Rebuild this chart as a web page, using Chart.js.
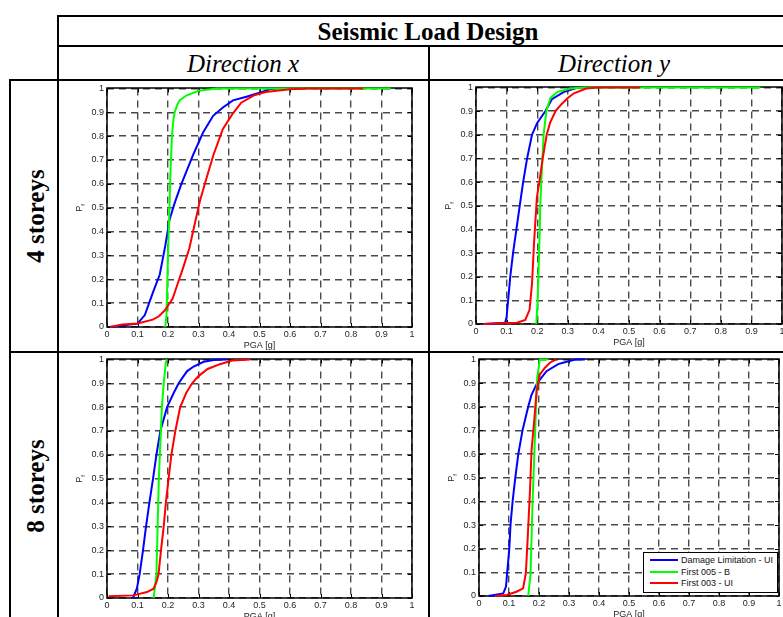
<!DOCTYPE html>
<html>
<head>
<meta charset="utf-8">
<script src="https://cdn.jsdelivr.net/npm/chart.js@4/dist/chart.umd.min.js"></script>
<style>
  body { margin: 0; background: #fff; }
  #fig { position: relative; width: 783px; height: 617px; overflow: hidden; background: #fff; }
  .ln { position: absolute; background: #000; }
  .cap { position: absolute; font-family: "Liberation Serif", "Times New Roman", serif; font-size: 25px;
         line-height: 1; white-space: nowrap; transform: translate(-50%, -50%); color: #000; }
  .rot { transform: translate(-50%, -50%) rotate(-90deg); font-weight: bold; }
  canvas { position: absolute; }
  #legend { position: absolute; left: 643px; top: 552px; width: 133px; height: 39px; border: 1px solid #000;
            background: #fff; font-family: Arial, "Liberation Sans", sans-serif; font-size: 9px; color: #111; }
  #legend .row { position: absolute; left: 0; height: 11px; line-height: 11px; white-space: nowrap; }
  #legend .smp { position: absolute; left: 6px; top: 4px; width: 28px; height: 2px; }
  #legend .txt { position: absolute; left: 37px; top: 0; }
</style>
</head>
<body>
<div id="fig">
  <div class="ln" style="left:57px;top:15px;width:760px;height:2px"></div>
  <div class="ln" style="left:57px;top:45px;width:760px;height:2px"></div>
  <div class="ln" style="left:9px;top:79px;width:800px;height:2px"></div>
  <div class="ln" style="left:9px;top:351px;width:800px;height:2px"></div>
  <div class="ln" style="left:57px;top:15px;width:2px;height:620px"></div>
  <div class="ln" style="left:9px;top:79px;width:2px;height:560px"></div>
  <div class="ln" style="left:428px;top:45px;width:2px;height:600px"></div>

  <div class="cap" style="left:428px;top:31px;font-weight:bold">Seismic Load Design</div>
  <div class="cap" style="left:243px;top:63px;font-style:italic">Direction x</div>
  <div class="cap" style="left:614px;top:63px;font-style:italic">Direction y</div>
  <div class="cap rot" style="left:35px;top:216px">4 storeys</div>
  <div class="cap rot" style="left:35px;top:486px">8 storeys</div>

  <canvas id="c4x"></canvas>
  <canvas id="c4y"></canvas>
  <canvas id="c8x"></canvas>
  <canvas id="c8y"></canvas>
  <div id="legend"></div>
</div>
<script>
// series names / colours
const seriesNames = ["Damage Limitation - UI", "First 005 - B", "First 003 - UI"];
const seriesColors = ["#0000ff", "#00ff00", "#ff0000"];

// 4 storeys - direction x
const pgaBlue4x = [0.01, 0.05, 0.1, 0.124, 0.151, 0.173, 0.191, 0.205, 0.222, 0.244, 0.282, 0.315, 0.348, 0.38, 0.413, 0.457, 0.495, 0.533, 0.555];
const pfBlue4x  = [0, 0.006, 0.014, 0.05, 0.146, 0.22, 0.34, 0.45, 0.52, 0.6, 0.72, 0.815, 0.885, 0.92, 0.95, 0.965, 0.98, 0.996, 1];
const pgaGreen4x = [0.191, 0.195, 0.198, 0.201, 0.205, 0.208, 0.213, 0.218, 0.222, 0.23, 0.238, 0.26, 0.3, 0.36, 0.93];
const pfGreen4x  = [0, 0.05, 0.2, 0.35, 0.5, 0.65, 0.8, 0.87, 0.9, 0.93, 0.95, 0.97, 0.99, 1, 1];
const pgaRed4x = [0.01, 0.05, 0.1, 0.15, 0.17, 0.19, 0.2, 0.215, 0.23, 0.25, 0.27, 0.29, 0.305, 0.33, 0.35, 0.38, 0.41, 0.44, 0.48, 0.52, 0.6, 0.66, 0.84];
const pfRed4x  = [0, 0.01, 0.015, 0.031, 0.045, 0.07, 0.09, 0.118, 0.175, 0.25, 0.33, 0.445, 0.53, 0.64, 0.725, 0.83, 0.89, 0.94, 0.97, 0.985, 0.996, 1, 1];

// 4 storeys - direction y
const pgaBlue4y = [0.025, 0.095, 0.1, 0.105, 0.112, 0.121, 0.132, 0.143, 0.154, 0.167, 0.183, 0.2, 0.227, 0.248, 0.286, 0.33, 0.36];
const pfBlue4y  = [0, 0.005, 0.03, 0.1, 0.2, 0.3, 0.4, 0.5, 0.6, 0.7, 0.8, 0.85, 0.9, 0.95, 0.98, 0.998, 1];
const pgaGreen4y = [0.197, 0.2015, 0.208, 0.21, 0.2135, 0.221, 0.23, 0.243, 0.265, 0.308, 0.352, 0.929];
const pfGreen4y  = [0, 0.1, 0.38, 0.5, 0.605, 0.8, 0.9, 0.955, 0.98, 0.995, 1, 1];
const pgaRed4y = [0.025, 0.134, 0.161, 0.175, 0.183, 0.19, 0.199, 0.207, 0.218, 0.231, 0.242, 0.26, 0.28, 0.3, 0.32, 0.36, 0.4, 0.537];
const pfRed4y  = [0, 0.005, 0.017, 0.06, 0.17, 0.35, 0.535, 0.6, 0.7, 0.8, 0.85, 0.9, 0.93, 0.955, 0.975, 0.995, 1, 1];

// 8 storeys - direction x
const pgaBlue8x = [0.085, 0.098, 0.107, 0.118, 0.128, 0.139, 0.151, 0.162, 0.175, 0.197, 0.219, 0.235, 0.262, 0.284, 0.317, 0.35, 0.393];
const pfBlue8x  = [0, 0.04, 0.1, 0.2, 0.3, 0.4, 0.5, 0.6, 0.7, 0.8, 0.86, 0.9, 0.95, 0.97, 0.99, 0.997, 1];
const pgaGreen8x = [0.153, 0.162, 0.166, 0.17, 0.175, 0.18, 0.186, 0.193, 0.197];
const pfGreen8x  = [0, 0.1, 0.3, 0.5, 0.65, 0.8, 0.9, 0.99, 1];
const pgaRed8x = [0.005, 0.087, 0.131, 0.153, 0.164, 0.169, 0.177, 0.186, 0.193, 0.202, 0.211, 0.224, 0.24, 0.26, 0.279, 0.3, 0.33, 0.37, 0.41, 0.47];
const pfRed8x  = [0.007, 0.011, 0.025, 0.039, 0.074, 0.1, 0.2, 0.3, 0.4, 0.5, 0.6, 0.7, 0.8, 0.86, 0.9, 0.93, 0.96, 0.98, 0.995, 1];

// 8 storeys - direction y
const pgaBlue8y = [0.031, 0.081, 0.09, 0.094, 0.101, 0.105, 0.112, 0.121, 0.131, 0.145, 0.164, 0.175, 0.194, 0.225, 0.264, 0.292, 0.325, 0.353];
const pfBlue8y  = [0, 0.011, 0.04, 0.1, 0.2, 0.3, 0.4, 0.5, 0.6, 0.7, 0.8, 0.85, 0.9, 0.95, 0.98, 0.99, 1, 1];
const pgaGreen8y = [0.164, 0.172, 0.178, 0.184, 0.19, 0.194, 0.203, 0.231];
const pfGreen8y  = [0, 0.095, 0.376, 0.586, 0.797, 0.923, 1, 1];
const pgaRed8y = [0.053, 0.092, 0.125, 0.147, 0.156, 0.162, 0.17, 0.175, 0.183, 0.192, 0.203, 0.22, 0.236, 0.258];
const pfRed8y  = [0, 0.004, 0.018, 0.032, 0.095, 0.236, 0.446, 0.614, 0.726, 0.867, 0.937, 0.965, 0.986, 1];

const fontFam = 'Arial, "Liberation Sans", sans-serif';
const textCol = "#262626";

function pts(xs, ys) {
  return xs.map((x, i) => ({ x: x, y: ys[i] }));
}

// black box round the plot area, with matlab style inner ticks
const frame = {
  id: "frame",
  beforeDatasetsDraw(chart) {
    const a = chart.chartArea, ctx = chart.ctx;
    const sx = chart.scales.x, sy = chart.scales.y;
    ctx.save();
    ctx.strokeStyle = "#000";
    ctx.lineWidth = 1;
    ctx.beginPath();
    sx.ticks.forEach(t => {
      const px = Math.round(sx.getPixelForValue(t.value)) + 0.5;
      ctx.moveTo(px, a.bottom); ctx.lineTo(px, a.bottom - 4);
      ctx.moveTo(px, a.top); ctx.lineTo(px, a.top + 4);
    });
    sy.ticks.forEach(t => {
      const py = Math.round(sy.getPixelForValue(t.value)) + 0.5;
      ctx.moveTo(a.left, py); ctx.lineTo(a.left + 4, py);
      ctx.moveTo(a.right, py); ctx.lineTo(a.right - 4, py);
    });
    ctx.stroke();
    ctx.lineWidth = 1.5;
    ctx.strokeRect(Math.round(a.left), Math.round(a.top), Math.round(a.right - a.left), Math.round(a.bottom - a.top));
    ctx.restore();
  }
};

// y title "P" with subscript f
const pfTitle = {
  id: "pfTitle",
  afterDraw(chart) {
    const a = chart.chartArea, ctx = chart.ctx;
    ctx.save();
    ctx.translate(a.left - 27, (a.top + a.bottom) / 2);
    ctx.rotate(-Math.PI / 2);
    ctx.fillStyle = textCol;
    ctx.textBaseline = "middle";
    ctx.textAlign = "left";
    ctx.font = "9px " + fontFam;
    const w = ctx.measureText("P").width;
    ctx.fillText("P", -w / 2 - 1, 0);
    ctx.font = "6px " + fontFam;
    ctx.fillText("f", w / 2 - 1, 3);
    ctx.restore();
  }
};

function axis(isX) {
  return {
    type: "linear",
    min: 0, max: 1,
    afterFit: s => { if (isX) s.height = 28; else s.width = 40; },
    ticks: {
      stepSize: 0.1,
      padding: isX ? 2 : 3,
      color: textCol,
      font: { family: fontFam, size: 9 },
      maxRotation: 0,
      autoSkip: false,
      callback: v => String(Math.round(v * 10) / 10)
    },
    grid: { color: "#4a4a4a", lineWidth: 1.4, drawTicks: false },
    border: { display: false, dash: [7, 5] },
    title: {
      display: isX,
      text: "PGA [g]",
      color: textCol,
      font: { family: fontFam, size: 9 },
      padding: { top: 0, bottom: 4 }
    }
  };
}

function makeChart(id, box, blue, green, red) {
  const cv = document.getElementById(id);
  cv.width = box[2] - box[0] + 55;
  cv.height = box[3] - box[1] + 35;
  cv.style.left = (box[0] - 40) + "px";
  cv.style.top = (box[1] - 7) + "px";
  const sets = [blue, green, red];
  new Chart(cv, {
    type: "line",
    data: {
      datasets: sets.map((d, i) => ({
        label: seriesNames[i],
        data: d,
        borderColor: seriesColors[i],
        backgroundColor: seriesColors[i],
        borderWidth: 2,
        pointRadius: 0,
        tension: 0,
        fill: false,
        clip: false,
        order: 3 - i
      }))
    },
    options: {
      responsive: false,
      animation: false,
      devicePixelRatio: 1,
      layout: { padding: { top: 7, right: 15, left: 0, bottom: 0 } },
      plugins: { legend: { display: false }, tooltip: { enabled: false } },
      scales: { x: axis(true), y: axis(false) }
    },
    plugins: [frame, pfTitle]
  });
}

makeChart("c4x", [107, 87, 412, 327], pts(pgaBlue4x, pfBlue4x), pts(pgaGreen4x, pfGreen4x), pts(pgaRed4x, pfRed4x));
makeChart("c4y", [476, 86, 782, 324], pts(pgaBlue4y, pfBlue4y), pts(pgaGreen4y, pfGreen4y), pts(pgaRed4y, pfRed4y));
makeChart("c8x", [107, 358, 412, 598], pts(pgaBlue8x, pfBlue8x), pts(pgaGreen8x, pfGreen8x), pts(pgaRed8x, pfRed8x));
makeChart("c8y", [479, 358, 779, 596], pts(pgaBlue8y, pfBlue8y), pts(pgaGreen8y, pfGreen8y), pts(pgaRed8y, pfRed8y));

// legend of the last panel
const lg = document.getElementById("legend");
seriesNames.forEach((name, i) => {
  const row = document.createElement("div");
  row.className = "row";
  row.style.top = (2 + i * 11.5) + "px";
  row.style.width = "133px";
  row.innerHTML = '<span class="smp" style="background:' + seriesColors[i] + '"></span><span class="txt">' + name + '</span>';
  lg.appendChild(row);
});
</script>
</body>
</html>
